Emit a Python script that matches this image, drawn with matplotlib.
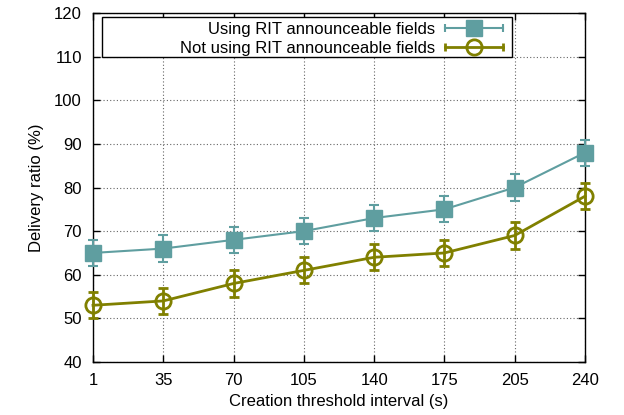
import matplotlib.pyplot as plt
from matplotlib.lines import Line2D
from matplotlib.patches import Rectangle
from matplotlib.legend_handler import HandlerLine2D

intervals = ['1', '35', '70', '105', '140', '175', '205', '240']
with_rit = [65, 66, 68, 70, 73, 75, 80, 88]
with_rit_err = [3, 3, 3, 3, 3, 3, 3, 3]
without_rit = [53, 54, 58, 61, 64, 65, 69, 78]
without_rit_err = [3, 3, 3, 3, 3, 3, 3, 3]
labels = ['Using RIT announceable fields', 'Not using RIT announceable fields']

teal = '#5f9ea0'
olive = '#808000'

plt.rcParams['font.family'] = ['Liberation Sans', 'DejaVu Sans']
plt.rcParams['font.size'] = 12

fig = plt.figure(figsize=(6.24, 4.15), dpi=100)
ax = fig.add_axes([93 / 624, 1 - 362 / 415, (585 - 93) / 624, (362 - 13) / 415])

x = list(range(len(intervals)))

e1 = ax.errorbar(x, with_rit, yerr=with_rit_err, color=teal, marker='s', ms=11.5,
                 lw=1.5, elinewidth=1.5, capsize=3.5, capthick=1.5, zorder=3)
e2 = ax.errorbar(x, without_rit, yerr=without_rit_err, color=olive, marker='o', ms=11,
                 mfc='none', mew=2, lw=2, elinewidth=2, capsize=3.5, capthick=2, zorder=3)
for cont in (e1, e2):
    for art in cont.get_children():
        art.set_clip_on(False)

ax.set_xlim(0, len(intervals) - 1)
ax.set_ylim(40, 120)
ax.set_xticks(x)
ax.set_xticklabels(intervals)
ax.set_yticks(range(40, 121, 10))
ax.tick_params(direction='in', length=5, top=True, right=True, width=1)
ax.tick_params(axis='x', pad=8)
ax.tick_params(axis='y', pad=8)
ax.grid(True, linestyle=(0, (1, 2)), color='#666666', linewidth=0.8)
for sp in ax.spines.values():
    sp.set_linewidth(1)

ax.set_xlabel('Creation threshold interval (s)', labelpad=4)
ax.set_ylabel('Delivery ratio (%)', labelpad=7)

# gnuplot-style key box
box = Rectangle((102 / 624, 1 - 57 / 415), 410 / 624, 40 / 415, transform=fig.transFigure,
                facecolor='white', edgecolor='black', linewidth=1, zorder=4)
ax.add_artist(box)
box.set_clip_on(False)

caps1 = Line2D([], [], color=teal, lw=1.5, marker='|', ms=6, mew=1.5)
mark1 = Line2D([], [], color=teal, marker='s', ms=11.5, linestyle='none')
caps2 = Line2D([], [], color=olive, lw=2, marker='|', ms=6, mew=2)
mark2 = Line2D([], [], color=olive, marker='o', ms=11, mfc='none', mew=2, linestyle='none')
hmap = {caps1: HandlerLine2D(numpoints=2, marker_pad=0),
        caps2: HandlerLine2D(numpoints=2, marker_pad=0),
        mark1: HandlerLine2D(numpoints=1),
        mark2: HandlerLine2D(numpoints=1)}
leg = ax.legend([(caps1, mark1), (caps2, mark2)], labels, handler_map=hmap,
                loc='center right', bbox_to_anchor=(503 / 624, 1 - 39 / 415),
                bbox_transform=fig.transFigure, frameon=False, markerfirst=False,
                borderpad=0, borderaxespad=0, handlelength=3.5, handletextpad=0.6,
                labelspacing=0.25)
leg.set_zorder(5)

fig.savefig('out.png', dpi=100)
